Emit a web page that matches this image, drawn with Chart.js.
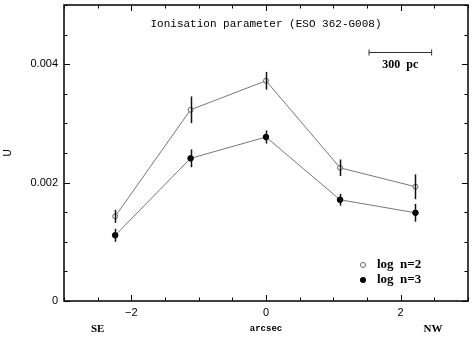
<!DOCTYPE html>
<html><head><meta charset="utf-8">
<script src="https://cdn.jsdelivr.net/npm/chart.js@4/dist/chart.umd.min.js"></script>
<style>html,body{margin:0;padding:0;background:#fff}canvas{display:block}</style>
</head><body>
<canvas id="c" width="473" height="338" style="width:473px;height:338px"></canvas>
<script>
// ---- data ----
const xs      = [-2.24, -1.12, 0.00, 1.10, 2.22];          // arcsec
const uLogN2  = [0.00143, 0.00323, 0.00372, 0.00225, 0.00193];
const eLogN2  = [0.00011, 0.000225, 0.00015, 0.00014, 0.00021];
const uLogN3  = [0.00111, 0.00241, 0.00277, 0.00171, 0.00149];
const eLogN3  = [0.00011, 0.00015, 0.00011, 0.00010, 0.00015];
const seriesLabels = ['log  n=2', 'log  n=3'];
const titleText = 'Ionisation parameter (ESO 362-G008)';
const scaleBarX = [1.53, 2.46];
const scaleBarY = 0.0042;
const scaleBarLabel = '300  pc';
const xTitle = 'arcsec';
const yTitle = 'U';
const sideLabels = ['SE', 'NW'];

function isMul(v, m){ const r = v / m; return Math.abs(r - Math.round(r)) < 1e-6; }

const deco = {
  id: 'deco',
  afterDraw(chart) {
    const { ctx, chartArea: a, scales: { x, y } } = chart;
    ctx.save();
    const line = (x1, y1, x2, y2) => { ctx.beginPath(); ctx.moveTo(x1, y1); ctx.lineTo(x2, y2); ctx.stroke(); };
    // error bars
    ctx.strokeStyle = '#111'; ctx.lineWidth = 1.5;
    [[uLogN2, eLogN2], [uLogN3, eLogN3]].forEach(([v, e]) => {
      xs.forEach((xv, i) => {
        const px = Math.round(x.getPixelForValue(xv)) + 0.5;
        line(px, y.getPixelForValue(v[i] - e[i]), px, y.getPixelForValue(v[i] + e[i]));
      });
    });
    // frame
    ctx.strokeStyle = '#000'; ctx.lineWidth = 1.5;
    ctx.strokeRect(a.left, a.top, a.right - a.left, a.bottom - a.top);
    // ticks
    ctx.lineWidth = 1;
    x.ticks.forEach(t => {
      const px = Math.round(x.getPixelForValue(t.value)) + 0.5;
      const L = isMul(t.value, 2) ? 6 : 3.5;
      line(px, a.bottom, px, a.bottom - L);
      line(px, a.top, px, a.top + L);
    });
    y.ticks.forEach(t => {
      const py = Math.round(y.getPixelForValue(t.value)) + 0.5;
      const L = isMul(t.value, 0.002) ? 6 : 3.5;
      line(a.left, py, a.left + L, py);
      line(a.right, py, a.right - L, py);
    });
    // title
    ctx.fillStyle = '#000';
    ctx.font = '11px "Liberation Mono", monospace';
    ctx.textAlign = 'center'; ctx.textBaseline = 'middle';
    ctx.fillText(titleText, (a.left + a.right) / 2, a.top + 19);
    // scale bar
    ctx.strokeStyle = '#333'; ctx.lineWidth = 1;
    const sx1 = x.getPixelForValue(scaleBarX[0]), sx2 = x.getPixelForValue(scaleBarX[1]);
    const sy = Math.round(y.getPixelForValue(scaleBarY)) + 0.5;
    line(sx1, sy, sx2, sy);
    line(sx1, sy - 3, sx1, sy + 3);
    line(sx2, sy - 3, sx2, sy + 3);
    ctx.font = 'bold 12px "Liberation Serif", serif';
    ctx.fillText(scaleBarLabel, (sx1 + sx2) / 2, sy + 12);
    // legend
    const lx = a.right - 105, ly1 = a.bottom - 36, ly2 = a.bottom - 21;
    ctx.lineWidth = 1; ctx.strokeStyle = '#666'; ctx.fillStyle = '#fff';
    ctx.beginPath(); ctx.arc(lx, ly1, 2.5, 0, Math.PI * 2); ctx.fill(); ctx.stroke();
    ctx.fillStyle = '#000';
    ctx.beginPath(); ctx.arc(lx, ly2, 3, 0, Math.PI * 2); ctx.fill();
    ctx.font = 'bold 13px "Liberation Serif", serif';
    ctx.textAlign = 'left';
    ctx.fillText(seriesLabels[0], lx + 14, ly1);
    ctx.fillText(seriesLabels[1], lx + 14, ly2);
    // bottom labels
    ctx.textAlign = 'center';
    ctx.font = 'bold 11px "Liberation Serif", serif';
    ctx.fillText(sideLabels[0], x.getPixelForValue(-2.5), 329);
    ctx.fillText(sideLabels[1], x.getPixelForValue(2.48), 329);
    ctx.font = 'bold 9px "Liberation Mono", monospace';
    ctx.fillText(xTitle, x.getPixelForValue(0), 329);
    // y title
    ctx.font = '10px "Liberation Sans", sans-serif';
    ctx.translate(8, (a.top + a.bottom) / 2);
    ctx.rotate(-Math.PI / 2);
    ctx.fillText(yTitle, 0, 0);
    ctx.restore();
  }
};

new Chart(document.getElementById('c'), {
  type: 'scatter',
  data: {
    datasets: [
      { label: seriesLabels[0], data: xs.map((xv, i) => ({ x: xv, y: uLogN2[i] })), showLine: true,
        borderColor: '#777', borderWidth: 1, pointStyle: 'circle', pointRadius: 2.5,
        pointBackgroundColor: '#fff', pointBorderColor: '#666', pointBorderWidth: 1 },
      { label: seriesLabels[1], data: xs.map((xv, i) => ({ x: xv, y: uLogN3[i] })), showLine: true,
        borderColor: '#777', borderWidth: 1, pointStyle: 'circle', pointRadius: 2.8,
        pointBackgroundColor: '#000', pointBorderColor: '#000', pointBorderWidth: 1 }
    ]
  },
  options: {
    responsive: false, animation: false, devicePixelRatio: 1,
    layout: { padding: { left: 0, right: 5, top: 5, bottom: 0 } },
    plugins: { legend: { display: false }, tooltip: { enabled: false } },
    scales: {
      x: {
        type: 'linear', min: -3, max: 3,
        ticks: { stepSize: 0.5, autoSkip: false, maxRotation: 0, padding: 5, color: '#000',
          font: { family: '"Liberation Sans", sans-serif', size: 11 },
          callback: v => isMul(v, 2) ? (v < 0 ? '\u2212' + Math.abs(v) : String(Math.round(v))) : '' },
        grid: { display: false, drawTicks: false }, border: { display: false },
        afterFit: s => { s.height = 37; s.paddingLeft = 0; s.paddingRight = 0; }
      },
      y: {
        type: 'linear', min: 0, max: 0.005,
        ticks: { stepSize: 0.0005, autoSkip: false, padding: 6, color: '#000',
          font: { family: '"Liberation Sans", sans-serif', size: 11 },
          callback: v => Math.abs(v) < 1e-9 ? '0' : (isMul(v, 0.002) ? v.toFixed(3) : '') },
        grid: { display: false, drawTicks: false }, border: { display: false },
        afterFit: s => { s.width = 64; s.paddingTop = 0; s.paddingBottom = 0; }
      }
    }
  },
  plugins: [deco]
});
</script>
</body></html>
